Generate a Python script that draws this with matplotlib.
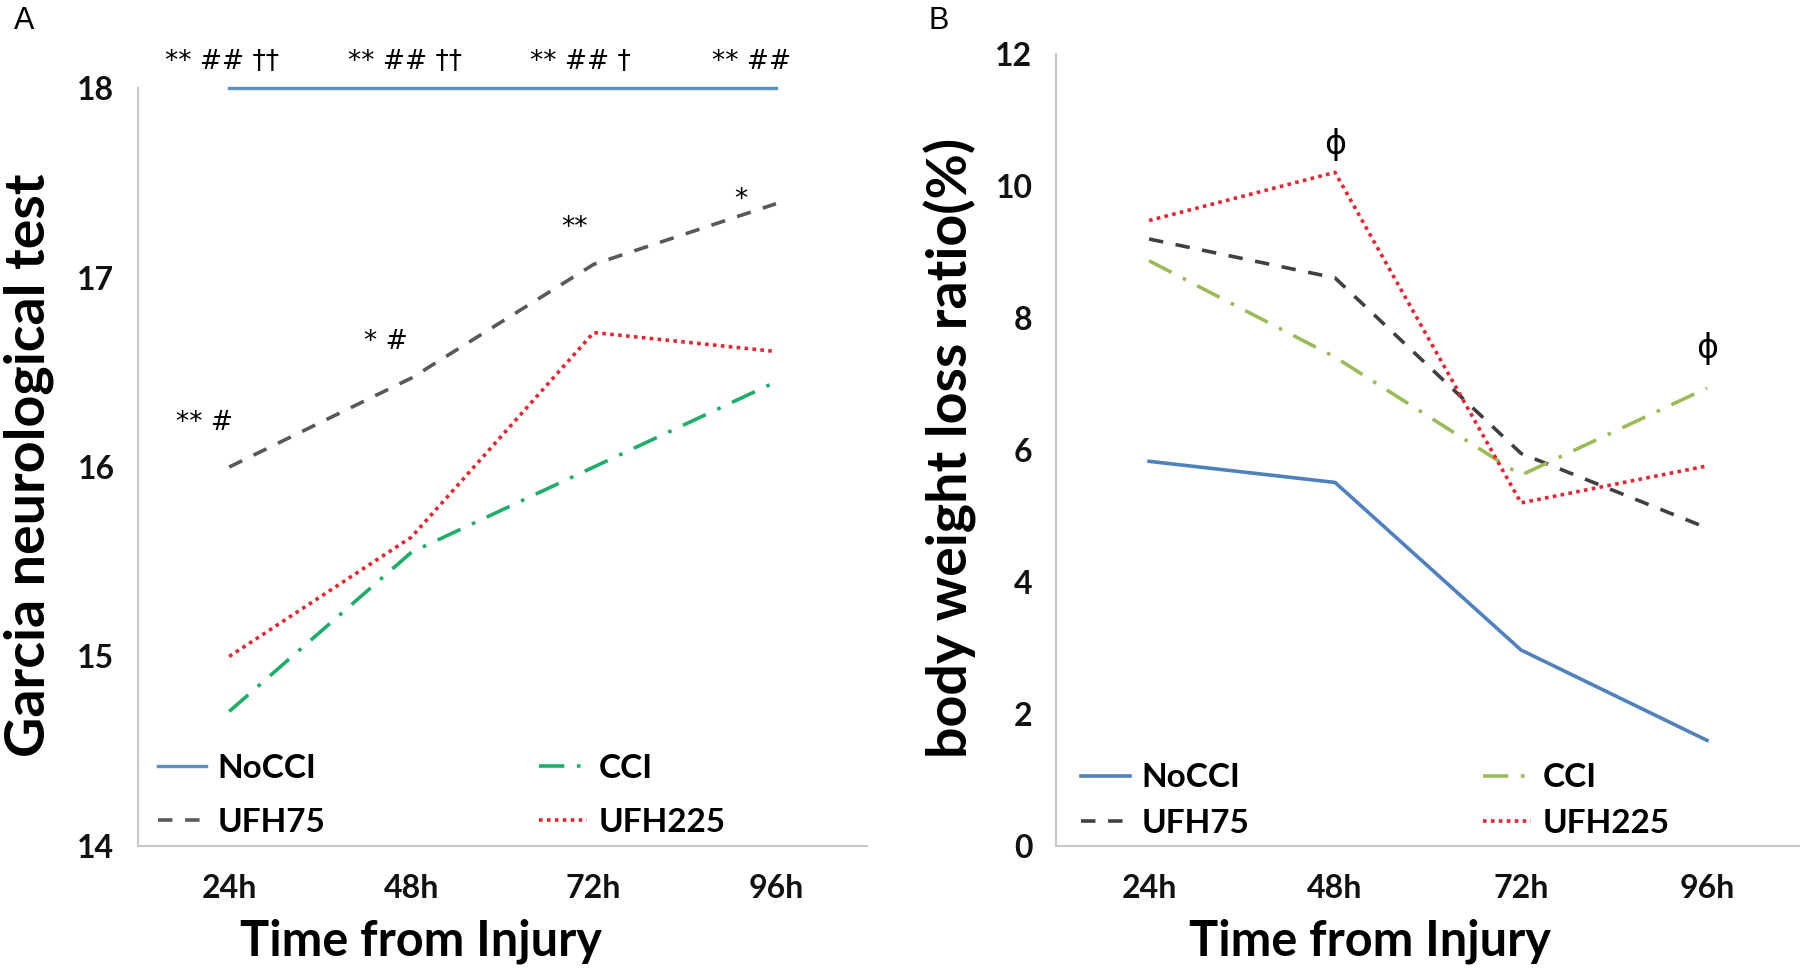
import matplotlib.pyplot as plt

plt.rcParams['font.family'] = ['Lato', 'DejaVu Sans']

times = ['24h', '48h', '72h', '96h']
groups = ['NoCCI', 'UFH75', 'CCI', 'UFH225']

# panel A: Garcia neurological test
garcia_nocci = [18.0, 18.0, 18.0, 18.0]
garcia_ufh75 = [16.0, 16.47, 17.07, 17.39]
garcia_cci = [14.71, 15.55, 16.0, 16.45]
garcia_ufh225 = [15.0, 15.63, 16.71, 16.61]
garcia_top_marks = ['** ## \u2020\u2020', '** ## \u2020\u2020', '** ## \u2020', '** ##']
garcia_ufh75_marks = ['** #', '* #', '**', '*']

# panel B: body weight loss ratio (%)
bw_nocci = [5.83, 5.51, 2.97, 1.6]
bw_ufh75 = [9.2, 8.61, 5.95, 4.82]
bw_cci = [8.87, 7.41, 5.62, 6.94]
bw_ufh225 = [9.48, 10.21, 5.2, 5.76]
bw_marks = ['', '\u03d5', '', '\u03d5']

fig = plt.figure(figsize=(18, 9.69), dpi=100)
axA = fig.add_axes([0.0767, 0.127, 0.405, 0.782])
axB = fig.add_axes([0.5867, 0.127, 0.4133, 0.817])

x = range(len(times))


def style_axis(ax, ylim, yticks):
    ax.set_xlim(-0.5, 3.5)
    ax.set_ylim(*ylim)
    ax.set_yticks(yticks)
    ax.set_xticks(list(x))
    ax.set_xticklabels(times)
    for s in ['top', 'right']:
        ax.spines[s].set_visible(False)
    for s in ['left', 'bottom']:
        ax.spines[s].set_color('#c8c8c8')
        ax.spines[s].set_linewidth(1.5)
    ax.tick_params(length=0, labelsize=23, colors='#111111')
    ax.tick_params(axis='y', pad=17)
    ax.tick_params(axis='x', pad=20)
    for t in ax.get_xticklabels() + ax.get_yticklabels():
        t.set_fontweight('bold')


# panel A
lw = 2.6
axA.plot(x, garcia_nocci, color='#5b8fc7', lw=2.4, clip_on=False, label='NoCCI')
axA.plot(x, garcia_ufh75, color='#595959', lw=lw, ls=(0, (4, 3.5)), label='UFH75')
axA.plot(x, garcia_cci, color='#1fae6a', lw=lw, ls=(0, (7, 3.5, 1, 3.5)), label='CCI')
axA.plot(x, garcia_ufh225, color='#e8242f', lw=lw, ls=(0, (1, 1.2)), label='UFH225')
style_axis(axA, (14, 18), [14, 15, 16, 17, 18])

for i, m in enumerate(garcia_top_marks):
    axA.text(i - 0.35, 18.14, m, fontsize=19, ha='left', va='center',
             clip_on=False, family=['DejaVu Sans'])
offs = [(-0.29, 0.23), (-0.26, 0.19), (-0.18, 0.19), (-0.23, 0.02)]
for i, m in enumerate(garcia_ufh75_marks):
    dx, dy = offs[i]
    axA.text(i + dx, garcia_ufh75[i] + dy, m, fontsize=19, ha='left',
             va='center', family=['DejaVu Sans'])

axA.legend(ncol=2, loc='lower left', bbox_to_anchor=(0.027, 0.012),
           frameon=False, borderpad=0, borderaxespad=0, handlelength=1.45,
           handletextpad=0.35, columnspacing=6.4, labelspacing=0.75,
           prop={'size': 24, 'weight': 'bold'})

# panel B
axB.plot(x, bw_nocci, color='#4f81bd', lw=lw, label='NoCCI')
axB.plot(x, bw_ufh75, color='#404040', lw=lw, ls=(0, (4, 3.5)), label='UFH75')
axB.plot(x, bw_cci, color='#9bbb59', lw=lw, ls=(0, (7, 3.5, 1, 3.5)), label='CCI')
axB.plot(x, bw_ufh225, color='#e8242f', lw=lw, ls=(0, (1, 1.2)), label='UFH225')
style_axis(axB, (0, 12), [0, 2, 4, 6, 8, 10, 12])

for i, m in enumerate(bw_marks):
    if m:
        top = max(bw_ufh225[i], bw_cci[i], bw_ufh75[i])
        axB.text(i, top + 0.42 if i == 1 else top + 0.6, m, fontsize=24,
                 ha='center', va='center', family=['DejaVu Sans'])

axB.legend(ncol=2, loc='lower left', bbox_to_anchor=(0.034, 0.01),
           frameon=False, borderpad=0, borderaxespad=0, handlelength=1.45,
           handletextpad=0.35, columnspacing=7.0, labelspacing=0.5,
           prop={'size': 24, 'weight': 'bold'})

# axis titles
fig.text(0.016, 0.52, 'Garcia neurological test', rotation=90, ha='center',
         va='center', fontsize=40, fontweight='bold')
fig.text(0.528, 0.538, 'body weight loss ratio(%)', rotation=90, ha='center',
         va='center', fontsize=40, fontweight='bold')
fig.text(0.234, 0.029, 'Time from Injury', ha='center', va='center',
         fontsize=35, fontweight='bold')
fig.text(0.761, 0.029, 'Time from Injury', ha='center', va='center',
         fontsize=35, fontweight='bold')

fig.text(0.008, 0.978, 'A', ha='left', va='center', fontsize=22,
         family=['Liberation Sans'])
fig.text(0.516, 0.978, 'B', ha='left', va='center', fontsize=22,
         family=['Liberation Sans'])

fig.savefig('out.png', dpi=100)
